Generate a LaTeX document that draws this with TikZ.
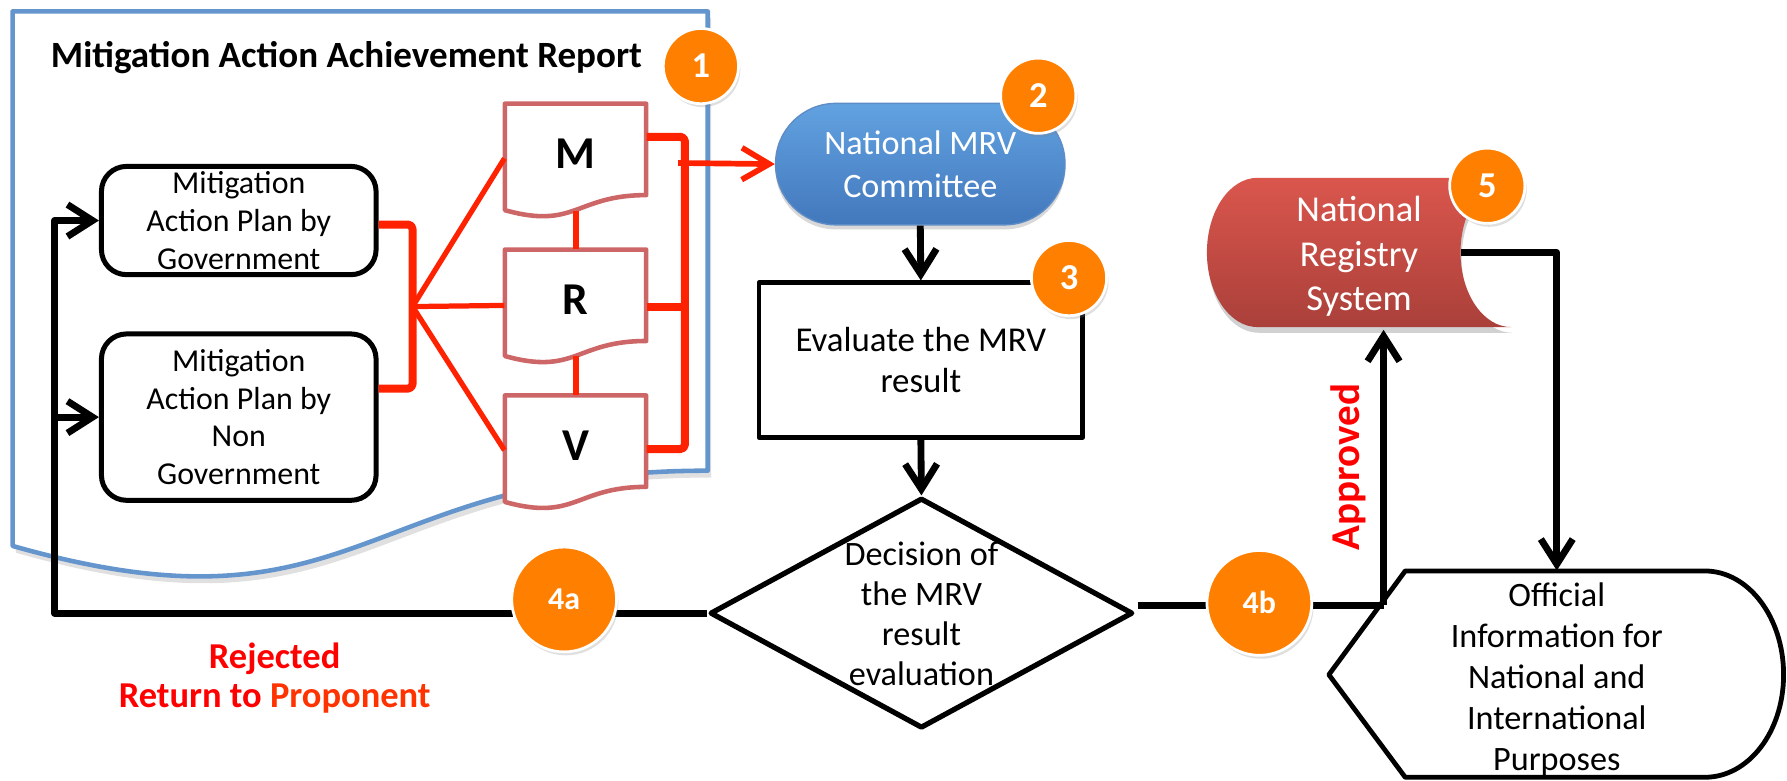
\documentclass[tikz,border=0pt]{standalone}
\usepackage{fontspec}
\setmainfont{Carlito}
\usetikzlibrary{arrows.meta,shapes.geometric,shadows,calc}
\definecolor{badgeor}{RGB}{255,128,0}
\definecolor{redline}{RGB}{255,34,0}
\definecolor{docred}{RGB}{205,102,102}
\definecolor{docblue}{RGB}{100,150,205}
\definecolor{cmtop}{RGB}{98,162,225}
\definecolor{cmbot}{RGB}{66,120,188}
\definecolor{rgtop}{RGB}{218,86,77}
\definecolor{rgbot}{RGB}{170,64,58}
\definecolor{txtred}{RGB}{255,0,0}
\definecolor{propred}{RGB}{255,51,0}
\newcommand\mydoc[3]{%
  \draw[docline] (#1-62,#2) -- (#1+62,#2) -- (#1+62,#2+80.2)
     .. controls (#1,#2+80.2) and (#1,#2+110.7) .. (#1-62,#2+93.4) -- cycle;
  \node[docbox] (#3) at (#1,#2+44) {#3};}
\begin{document}
\begin{tikzpicture}[x=0.5pt,y=-0.5pt,line join=round,
  blk/.style={line width=3pt,black},
  blkarrow/.style={blk,-{Straight Barb[length=11pt,width=14pt]}},
  redthick/.style={line width=3.5pt,redline,rounded corners=2pt},
  redthin/.style={line width=2.3pt,redline},
  docline/.style={line width=2pt,draw=docred,fill=white},
  docbox/.style={inner sep=0pt,minimum width=62pt,minimum height=44pt,font=\bfseries\fontsize{20}{24}\selectfont},
  planbox/.style={draw,line width=2.2pt,fill=white,rounded corners=11pt,minimum width=120.5pt,align=center,font=\fontsize{14}{16.5}\selectfont,inner sep=0pt},
  badge/.style={circle,fill=badgeor,draw=white,line width=1.2pt,text=white,font=\bfseries\fontsize{16}{18}\selectfont,inner sep=0pt,minimum size=33pt,drop shadow={opacity=0.25,shadow xshift=0.8pt,shadow yshift=-1.5pt}},
  bigbadge/.style={badge,minimum size=46pt,font=\bfseries\fontsize{14}{16}\selectfont},
  plaintext/.style={font=\fontsize{15}{18}\selectfont,align=center,inner sep=0pt}]
\useasboundingbox (0,0) rectangle (1568,685);
\fill[white] (0,0) rectangle (1568,685);

% report document outline
\fill[black,opacity=0.12] (14,16) -- (624,16) -- (624,419) .. controls (319,419) and (319,572) .. (14,485) -- cycle;
\draw[docblue,line width=2pt,fill=white] (11,10) -- (621,10) -- (621,413) .. controls (316,413) and (316,566) .. (11,479) -- cycle;
\node[font=\bfseries\fontsize{16.25}{19}\selectfont,anchor=base] (title) at (304,59) {Mitigation Action Achievement Report};

% plan boxes
\node[planbox,minimum height=47.5pt] (A) at (209.5,193.5) {Mitigation\\Action Plan by\\Government};
\node[planbox,minimum height=73pt] (B) at (209.5,366) {Mitigation\\Action Plan by\\Non\\Government};

% M R V documents
\mydoc{505}{91}{M}
\mydoc{505}{219}{R}
\mydoc{505}{347}{V}

% committee
\node[rounded corners=26.5pt,minimum width=127pt,minimum height=53.3pt,top color=cmtop,bottom color=cmbot,draw=cmbot!85!white,line width=0.6pt,text=white,align=center,font=\fontsize{15}{19}\selectfont,inner sep=0pt,drop shadow={opacity=0.3,shadow xshift=0pt,shadow yshift=-2pt}] (C) at (807.5,144) {National MRV\\Committee};

% evaluate
\node[draw,line width=2.1pt,fill=white,minimum width=142pt,minimum height=67.8pt,align=center,font=\fontsize{15.3}{17.8}\selectfont,inner sep=0pt] (E) at (808,316) {Evaluate the MRV\\result};

% decision diamond
\node[draw,diamond,line width=2.3pt,fill=white,minimum width=185.5pt,minimum height=101pt,inner sep=0pt,font=\fontsize{15}{17.5}\selectfont] (D) at (808.5,538)
  {\smash{\makebox[0pt]{\raisebox{-5.5pt}{\begin{tabular}{@{}c@{}}Decision of\\the MRV\\result\\evaluation\end{tabular}}}}};

% official information (display shape)
\draw[line width=2.1pt,fill=white] (1233,501) -- (1496,501) .. controls (1534.1,501) and (1565,541.7) .. (1565,592)
   .. controls (1565,642.3) and (1534.1,682) .. (1496,682) -- (1233,682) -- (1166,592) -- cycle;
\node[plaintext,minimum height=95.5pt] (Off) at (1366,596.5) {Official\\Information for\\National and\\International\\Purposes};

% national registry (stored data shape)
\fill[black,opacity=0.18] (1104.5,161) -- (1327,161) .. controls (1302.4,161) and (1282.5,190.3) .. (1282.5,226.5)
   .. controls (1282.5,262.7) and (1302.4,292) .. (1327,292) -- (1104.5,292)
   .. controls (1079.9,292) and (1060,262.7) .. (1060,226.5) .. controls (1060,190.3) and (1079.9,161) .. (1104.5,161) -- cycle;
\shade[top color=rgtop,bottom color=rgbot] (1103.5,156) -- (1326,156) .. controls (1301.4,156) and (1281.5,185.3) .. (1281.5,221.5)
   .. controls (1281.5,257.7) and (1301.4,287) .. (1326,287) -- (1103.5,287)
   .. controls (1078.9,287) and (1059,257.7) .. (1059,221.5) .. controls (1059,185.3) and (1078.9,156) .. (1103.5,156) -- cycle;
\node[plaintext,text=white,font=\fontsize{16}{19.4}\selectfont,minimum width=133.5pt,minimum height=64pt] (Reg) at (1192.5,225) {National\\Registry\\System};

% red connectors
\coordinate (fan) at (362,269);
\draw[redthick] ([yshift=-1.75pt]A.east) -| (fan) |- ([yshift=12.5pt]B.east);
\draw[redthin] (fan) -- ([yshift=-2pt]M.west);
\draw[redthin] (fan) -- ([yshift=-2.5pt]R.west);
\draw[redthin] (fan) -- ([yshift=-2pt]V.west);
\draw[redthin,line width=2.6pt] ([yshift=-2.7pt]M.south) -- (R.north);
\draw[redthin,line width=2.6pt] ([yshift=-2.7pt]R.south) -- (V.north);
\coordinate (rbtop) at (601,120);
\coordinate (rbbot) at (601,394);
\coordinate (Re) at ([yshift=-3pt]R.east);
\draw[redthick] ([yshift=7.5pt]M.east) -- (rbtop) -- (rbbot) -- ([yshift=-1.5pt]V.east);
\draw[redthick] (Re) -- (Re -| rbtop);
\coordinate (ra) at (595,143);
\draw[redthin,line width=2.5pt,-{Straight Barb[length=12pt,width=14pt]}] (ra) -- (C.west);

% black connectors
\coordinate (lft) at (48,0);
\draw[blkarrow] (D.west) -| (lft |- A.west) -- (A.west);
\draw[blkarrow] (lft |- B.west) -- (B.west);
\draw[blkarrow] (C.south) -- (E.north);
\draw[blkarrow] (E.south) -- (D.north);
\coordinate (J) at (1214,531);
\draw[blk] ([shift={(2,-7)}]D.east) -- (J);
\draw[blkarrow] (J) -- (J |- Reg.south);
\coordinate (Rr) at ([xshift=-22.25pt,yshift=1.75pt]Reg.east);
\draw[blkarrow] (Rr) -| (Off.north);

% labels
\node[text=txtred,font=\bfseries\fontsize{16}{17.5}\selectfont,align=center,inner sep=0pt] (rej) at (241,595) {Rejected\\Return to \textcolor{propred}{Proponent}};
\node[rotate=90,text=txtred,font=\bfseries\fontsize{18}{20}\selectfont,inner sep=0pt] (appr) at (1183,410) {Approved};

% badges
\node[badge] (b1) at (615,58) {1};
\node[badge] (b2) at (911,84) {2};
\node[badge] (b3) at (938,244) {3};
\node[badge] (b5) at (1305,163) {5};
\node[bigbadge] (b4a) at (495,526) {4a};
\node[bigbadge] (b4b) at (1105,529) {4b};
\end{tikzpicture}
\end{document}
